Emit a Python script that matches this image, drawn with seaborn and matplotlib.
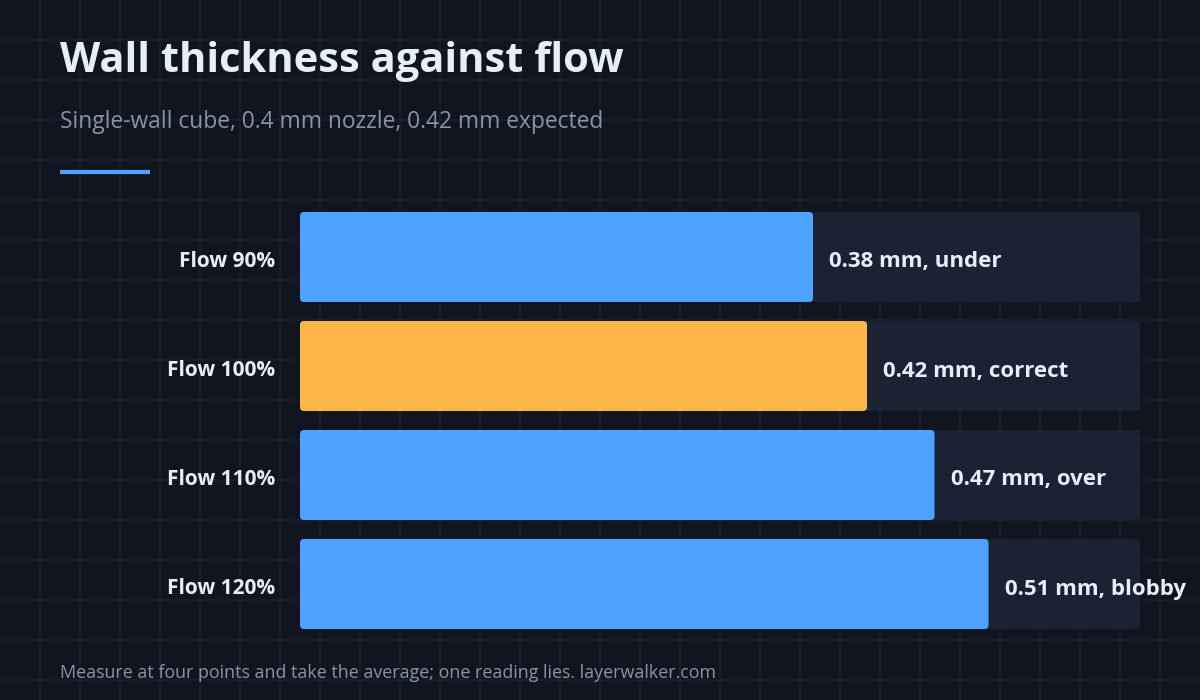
import matplotlib
matplotlib.use("Agg")
import matplotlib.pyplot as plt
import matplotlib.transforms as mtransforms
import seaborn as sns
import pandas as pd
import numpy as np
from matplotlib.patches import FancyBboxPatch
from matplotlib.lines import Line2D

# ---- data ----
categories = ["Flow 90%", "Flow 100%", "Flow 110%", "Flow 120%"]
thickness_mm = [0.38, 0.42, 0.47, 0.51]
verdicts = ["under", "correct", "over", "blobby"]
highlight = [False, True, False, False]

title = "Wall thickness against flow"
subtitle = "Single-wall cube, 0.4 mm nozzle, 0.42 mm expected"
footer = "Measure at four points and take the average; one reading lies. layerwalker.com"

# ---- style ----
BG = "#111520"
GRID = "#1a1f2d"
TRACK = "#1a2233"
BLUE = "#4da3ff"
ORANGE = "#ffb648"
TEXT = "#e8eef8"
MUTED = "#8a94a8"
FONT = ["Open Sans", "DejaVu Sans"]

sns.set_theme(style="dark")
plt.rcParams["font.family"] = FONT

df = pd.DataFrame({"cat": categories, "val": thickness_mm,
                   "hl": ["hi" if h else "lo" for h in highlight]})

W, H = 1200, 700
fig = plt.figure(figsize=(12, 7), dpi=100, facecolor=BG)

# background grid
bg = fig.add_axes([0, 0, 1, 1], zorder=0)
bg.set_facecolor(BG)
bg.set_xlim(0, W)
bg.set_ylim(H, 0)
for gx in range(40, W, 40):
    bg.axvline(gx, color=GRID, lw=1.2)
for gy in range(40, H, 40):
    bg.axhline(gy, color=GRID, lw=1.2)
bg.axis("off")

# main axes
pitch = 109
ax_left, ax_right = 300, 1140
top = 257 - pitch / 2
ax = fig.add_axes([ax_left / W, 1 - (top + 4 * pitch) / H,
                   (ax_right - ax_left) / W, 4 * pitch / H], zorder=1)
ax.set_facecolor("none")

sns.barplot(data=df, x="val", y="cat", hue="hl", orient="h",
            palette={"hi": ORANGE, "lo": BLUE}, width=90 / 109,
            dodge=False, legend=False, ax=ax, saturation=1)

xmax = 0.6222
ax.set_xlim(0, xmax)
ax.set_ylim(3.5, -0.5)

# replace bars by rounded ones + tracks
patches = [p for p in ax.patches if p.get_width() > 0]
for p in patches:
    x0, y0, w, h = p.get_x(), p.get_y(), p.get_width(), p.get_height()
    color = p.get_facecolor()
    p.set_visible(False)
    rx = 4 * xmax / (ax_right - ax_left)
    ry = 4 * 4 / (4 * pitch)
    track = FancyBboxPatch((0 + rx, y0 + ry), xmax - 2 * rx, h - 2 * ry,
                           boxstyle=f"round,pad={rx}", mutation_aspect=ry / rx,
                           facecolor=TRACK, edgecolor="none", zorder=1,
                           clip_on=False)
    ax.add_patch(track)
    bar = FancyBboxPatch((x0 + rx, y0 + ry), w - 2 * rx, h - 2 * ry,
                         boxstyle=f"round,pad={rx}", mutation_aspect=ry / rx,
                         facecolor=color, edgecolor="none", zorder=2,
                         clip_on=False)
    ax.add_patch(bar)

for i, (v, verdict) in enumerate(zip(thickness_mm, verdicts)):
    ax.annotate(f"{v:.2f} mm, {verdict}", xy=(v, i), xytext=(16, -5),
                textcoords="offset pixels", ha="left", va="center",
                color=TEXT, fontsize=16, fontweight="bold",
                annotation_clip=False, zorder=3)

ax.set_xlabel("")
ax.set_ylabel("")
ax.set_xticks([])
ax.tick_params(axis="y", length=0, pad=18, labelsize=15, labelcolor=TEXT)
shift = mtransforms.ScaledTranslation(0, -2 / 100, fig.dpi_scale_trans)
for lab in ax.get_yticklabels():
    lab.set_fontweight("bold")
    lab.set_transform(lab.get_transform() + shift)
for s in ax.spines.values():
    s.set_visible(False)
ax.grid(False)

# titles
fig.text(60 / W, 1 - 72 / H, title, ha="left", va="baseline",
         fontsize=30, fontweight="bold", color=TEXT)
fig.text(60 / W, 1 - 128 / H, subtitle, ha="left", va="baseline",
         fontsize=16.4, color=MUTED)
fig.add_artist(Line2D([60 / W, 150 / W], [1 - 172 / H, 1 - 172 / H],
                      color=BLUE, lw=3, solid_capstyle="butt"))
fig.text(60 / W, 1 - 678 / H, footer, ha="left", va="baseline",
         fontsize=12.9, color=MUTED)

fig.savefig("out.png", dpi=100, facecolor=BG)
